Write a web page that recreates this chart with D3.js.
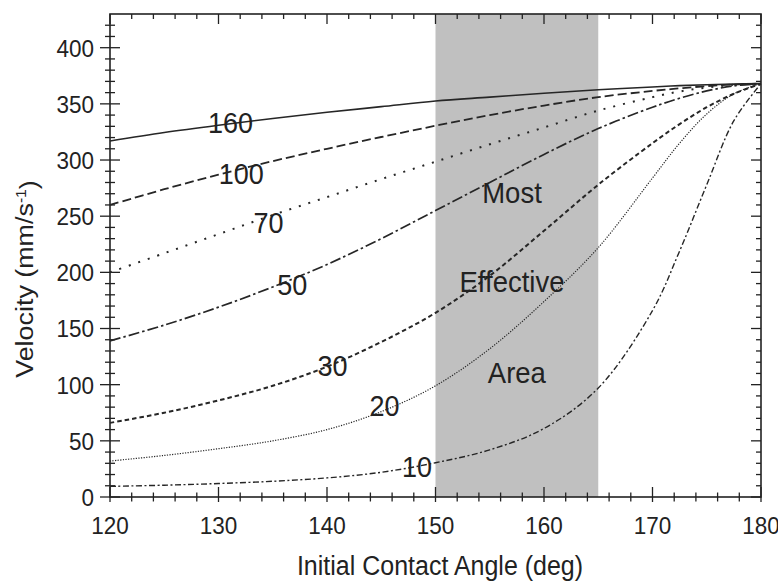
<!DOCTYPE html>
<html>
<head>
<meta charset="utf-8">
<script src="https://cdn.jsdelivr.net/npm/d3@7"></script>
<style>
    body { margin: 0; background: #fff; }
    text { font-family: "Liberation Sans", Arial, sans-serif; fill: #222; }
</style>
</head>
<body>
<div id="chart"></div>
<script>
//contact angles (deg)
var angles = [120, 125, 130, 135, 140, 145, 150, 155, 160, 165, 170, 172.5, 175, 177.5, 180];

//velocity series (mm/s)
var v160 = [317, 324.5, 331, 337, 342.5, 347.5, 352.5, 356, 359.5, 362.5, 365, 366.2, 367, 367.6, 368];
var v100 = [260, 274, 287, 299, 310, 320.5, 330.5, 340, 348.5, 356, 361.5, 363.8, 365.8, 367.2, 368];
var v70 = [200, 217, 234, 251, 267, 283, 298.5, 314, 329, 344, 356, 361, 364.5, 367, 368];
var v50 = [139, 153, 169, 187, 207, 230, 255, 280, 305, 328, 347, 355, 361.5, 366, 368];
var v30 = [66, 75, 86, 99, 116, 138, 164, 197, 237, 278, 315, 332, 347, 359, 368];
var v20 = [32, 37, 43, 50, 60, 76, 99, 132, 174, 222, 284, 315, 341, 359, 368];
var v10 = [9.5, 10.5, 12, 14, 17, 22, 30.5, 42, 61, 97, 166, 219, 278, 335, 368];

//series names
var seriesNames = ['160', '100', '70', '50', '30', '20', '10'];
var seriesValues = [v160, v100, v70, v50, v30, v20, v10];

//label anchors (angle, velocity)
var labelAngles = [131.1, 132.1, 134.6, 136.8, 140.5, 145.3, 148.3];
var labelValues = [333, 288, 244, 189, 117, 81, 27];

//shaded region and its text
var regionRange = [150, 165];
var regionTexts = ['Most', 'Effective', 'Area'];
var regionAngles = [157.05, 157.05, 157.5];
var regionValues = [271, 192, 111];

//axis ticks
var xTicks = [120, 130, 140, 150, 160, 170, 180];
var yTicks = [0, 50, 100, 150, 200, 250, 300, 350, 400];

(function () {
    //declare needed variables
    var width = 778,
        height = 582,
        margin = { top: 14, right: 17, bottom: 85, left: 110 },
        plotW = width - margin.left - margin.right,
        plotH = height - margin.top - margin.bottom,
        lineColor = '#262626',
        stretch = 'scale(1,1.1)',
        styles = [
            { dash: null, w: 1.6 },
            { dash: '9,4', w: 1.8 },
            { dash: '2,8', w: 2 },
            { dash: '11,3,2.5,3', w: 1.7 },
            { dash: '4.5,3', w: 2 },
            { dash: '1.2,1.4', w: 1.2 },
            { dash: '6,2.5,2,2.5', w: 1.4 }
        ];

    var svg = d3.select('#chart').append('svg')
        .attr('width', width)
        .attr('height', height);

    var x = d3.scaleLinear().domain([120, 180]).range([0, plotW]);
    var y = d3.scaleLinear().domain([0, 430]).range([plotH, 0]);

    var g = svg.append('g')
        .attr('transform', 'translate(' + margin.left + ',' + margin.top + ')');

    //shaded region
    g.append('rect')
        .attr('x', x(regionRange[0]))
        .attr('y', 0)
        .attr('width', x(regionRange[1]) - x(regionRange[0]))
        .attr('height', plotH)
        .attr('fill', '#c0c0c0');

    //minor tick values
    var xMinor = d3.range(120, 180.1, 2).filter(function (d) { return d % 10 !== 0; });
    var yMinor = d3.range(0, 430, 10).filter(function (d) { return d % 50 !== 0; });

    //draws ticks crossing or inside the frame
    function tickLines(vals, horizontal, base, inner, outer, dir) {
        g.append('g').selectAll('line')
            .data(vals)
            .enter().append('line')
            .attr('x1', function (d) { return horizontal ? x(d) : base - outer * dir; })
            .attr('x2', function (d) { return horizontal ? x(d) : base + inner * dir; })
            .attr('y1', function (d) { return horizontal ? base + outer * dir : y(d); })
            .attr('y2', function (d) { return horizontal ? base - inner * dir : y(d); })
            .attr('stroke', '#222')
            .attr('stroke-width', 1.3);
    }

    //bottom and top
    tickLines(xTicks, true, plotH, 10, 5, 1);
    tickLines(xMinor, true, plotH, 4.5, 4.5, 1);
    tickLines(xTicks, true, 0, 10, 0, -1);
    tickLines(xMinor, true, 0, 5, 0, -1);
    //left and right
    tickLines(yTicks, false, 0, 10, 10, 1);
    tickLines(yMinor, false, 0, 5, 5, 1);
    tickLines(yTicks, false, plotW, 10, 0, -1);
    tickLines(yMinor, false, plotW, 5, 0, -1);

    //frame
    g.append('rect')
        .attr('width', plotW)
        .attr('height', plotH)
        .attr('fill', 'none')
        .attr('stroke', '#222')
        .attr('stroke-width', 1.6);

    //tick labels (text in the figure is slightly taller than wide)
    g.append('g').selectAll('text')
        .data(xTicks)
        .enter().append('text')
        .attr('transform', function (d) { return 'translate(' + x(d) + ',' + (plotH + 37) + ') ' + stretch; })
        .attr('text-anchor', 'middle')
        .style('font-size', '22.5px')
        .text(function (d) { return d; });

    g.append('g').selectAll('text')
        .data(yTicks)
        .enter().append('text')
        .attr('transform', function (d) { return 'translate(-16,' + y(d) + ') ' + stretch; })
        .attr('dy', '0.36em')
        .attr('text-anchor', 'end')
        .style('font-size', '22.5px')
        .text(function (d) { return d; });

    //axis titles
    svg.append('text')
        .attr('transform', 'translate(440,575) scale(1,1.12)')
        .attr('text-anchor', 'middle')
        .style('font-size', '25px')
        .text('Initial Contact Angle (deg)');

    var yTitle = svg.append('text')
        .attr('transform', 'translate(33,279) scale(1,1.12) rotate(-90)')
        .attr('text-anchor', 'middle')
        .style('font-size', '24px');
    yTitle.append('tspan').text('Velocity (mm/s');
    yTitle.append('tspan').attr('dy', '-0.5em').style('font-size', '14px').text('-1');
    yTitle.append('tspan').attr('dy', '0.45em').text(')');

    //line generator
    var line = d3.line()
        .x(function (d) { return x(d[0]); })
        .y(function (d) { return y(d[1]); })
        .curve(d3.curveCatmullRom.alpha(0.5));

    //curves
    seriesValues.forEach(function (vals, i) {
        var pts = angles.map(function (a, j) { return [a, vals[j]]; });
        g.append('path')
            .attr('d', line(pts))
            .attr('fill', 'none')
            .attr('stroke', lineColor)
            .attr('stroke-width', styles[i].w)
            .attr('stroke-dasharray', styles[i].dash);
    });

    //curve labels, drawn over the lines
    g.append('g').selectAll('text')
        .data(seriesNames)
        .enter().append('text')
        .attr('transform', function (d, i) {
            return 'translate(' + x(labelAngles[i]) + ',' + y(labelValues[i]) + ') scale(1,1.07)';
        })
        .attr('dy', '0.36em')
        .attr('text-anchor', 'middle')
        .style('font-size', '27px')
        .text(function (d) { return d; });

    //region text
    g.append('g').selectAll('text')
        .data(regionTexts)
        .enter().append('text')
        .attr('transform', function (d, i) {
            return 'translate(' + x(regionAngles[i]) + ',' + y(regionValues[i]) + ') scale(1,1.07)';
        })
        .attr('dy', '0.36em')
        .attr('text-anchor', 'middle')
        .style('font-size', '27.5px')
        .text(function (d) { return d; });
})();
</script>
</body>
</html>
